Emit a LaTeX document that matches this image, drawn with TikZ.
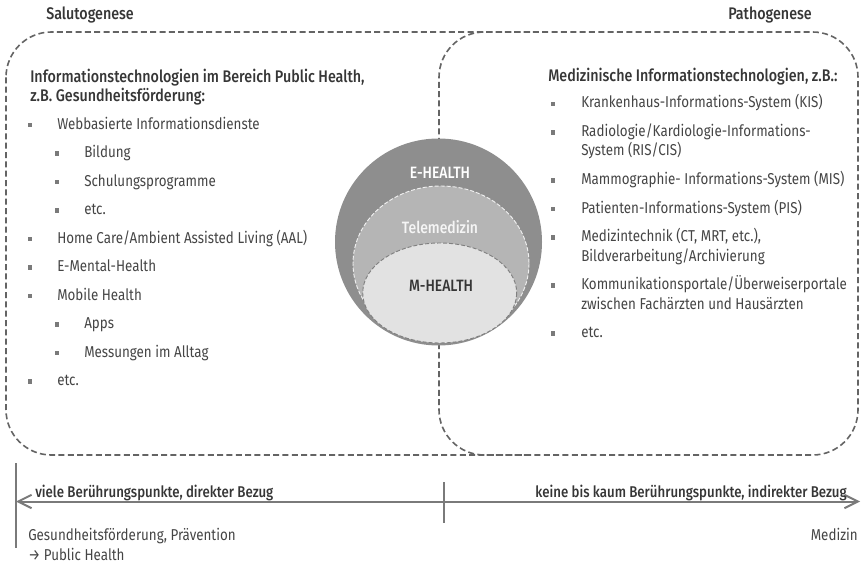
\documentclass[tikz,border=0pt]{standalone}
\usepackage{fontspec}
\setmainfont{Fira Sans}[FakeStretch=0.85, BoldFont={Fira Sans Medium}]
\usetikzlibrary{positioning, arrows.meta}

\definecolor{framegray}{HTML}{646464}
\definecolor{textgray}{HTML}{454545}
\definecolor{headgray}{HTML}{363636}
\definecolor{bulletgray}{HTML}{7A7A7A}
\definecolor{ehealth}{HTML}{8E8E8E}
\definecolor{telemed}{HTML}{B5B5B5}
\definecolor{mhealth}{HTML}{E2E2E2}
\definecolor{axisgray}{HTML}{7A7A7A}

\begin{document}
\begin{tikzpicture}[
        x=0.75pt, y=-0.75pt,
        >={Straight Barb[length=10pt, width=10pt]},
        area/.style={draw=framegray, line width=1.2pt, dash pattern=on 4.5pt off 2.5pt, rounded corners=34pt},
        item/.style={anchor=base west, inner sep=0pt, text=textgray, align=left, font=\fontsize{11.8}{14.6}\selectfont},
        headtext/.style={item, text=headgray, font=\bfseries\fontsize{12.6}{14.6}\selectfont},
        axtext/.style={item, text=headgray, font=\bfseries\fontsize{11.7}{14}\selectfont},
        bullet/.style={fill=bulletgray, minimum size=3.2pt, inner sep=0pt},
        circtext/.style={inner sep=0pt, font=\bfseries\fontsize{12.3}{14}\selectfont},
        axis/.style={draw=axisgray, line width=1.5pt},
    ]
    \useasboundingbox (0,0) rectangle (862,563);

        % Draw the dashed areas: outer frame plus the rounded divider of the right area
        \draw[area] (6,32) rectangle (858,455);
        \coordinate (divT) at (530,32);
        \coordinate (divB) at (530,455);
        \draw[area] (divT) -- (439,32) -- (439,455) -- (divB);

        \node[headtext] (salut) at (46,20) {Salutogenese};
        \node[headtext, anchor=base east] (patho) at (812,20) {Pathogenese};

        % Draw the nested health circles
        \fill[ehealth] (438.5,242) circle [radius=103.5];
        \filldraw[fill=telemed, draw=white!80!telemed, line width=0.7pt, dash pattern=on 3pt off 1.5pt]
            (441,263.5) ellipse [x radius=88, y radius=77.5];
        \filldraw[fill=mhealth, draw=gray, line width=0.7pt, dash pattern=on 3pt off 1.5pt]
            (439.7,293) ellipse [x radius=77, y radius=50];

        \node[circtext, text=white] (eh) at (440,173) {E-HEALTH};
        \node[circtext, text=white!92!gray] (tm) at (440,227) {Telemedizin};
        \node[circtext, text=headgray] (mh) at (441,286) {M-HEALTH};

        % Left list: public health (base anchor sits on the last line)
        \node[headtext] (lhead) at (30,101.5) {Informationstechnologien im Bereich Public Health,\\z.B. Gesundheitsförderung:};
        \foreach \i/\y/\lvl/\txt in {
                1/125/1/{Webbasierte Informationsdienste},
                2/153.5/2/{Bildung},
                3/182/2/{Schulungsprogramme},
                4/210.5/2/{etc.},
                5/239/1/{Home Care/Ambient Assisted Living (AAL)},
                6/267.5/1/{E-Mental-Health},
                7/296/1/{Mobile Health},
                8/324.5/2/{Apps},
                9/353/2/{Messungen im Alltag},
                10/381.5/1/{etc.}}
        {
            \pgfmathsetmacro{\bx}{3+27*\lvl}
            \node[bullet] (L-\i) at (\bx,\y) {};
            \node[item] (Lt-\i) at (\bx+27,\y+4) {\txt};
        }

        % Right list: medicine
        \node[headtext] (rhead) at (548,82) {Medizinische Informationstechnologien, z.B.:};
        \foreach \i/\y/\n/\txt in {
                1/104/1/{Krankenhaus-Informations-System (KIS)},
                2/132.5/2/{Radiologie/Kardiologie-Informations-\\System (RIS/CIS)},
                3/180.5/1/{Mammographie- Informations-System (MIS)},
                4/209/1/{Patienten-Informations-System (PIS)},
                5/237.5/2/{Medizintechnik (CT, MRT, etc.),\\Bildverarbeitung/Archivierung},
                6/285.5/2/{Kommunikationsportale/Überweiserportale\\zwischen Fachärzten und Hausärzten},
                7/333.5/1/{etc.}}
        {
            \node[bullet] (R-\i) at (553,\y) {};
            \node[item] (Rt-\i) at (581,\y+4+19.5*\n-19.5) {\txt};
        }

        % Bottom scale
        \coordinate (barT) at (16,463);
        \coordinate (barB) at (16,548);
        \coordinate (axL) at (16,501.5);
        \coordinate (axR) at (860,501.5);
        \coordinate (tickT) at (444,482);
        \coordinate (tickB) at (444,523);
        \draw[axis, line width=1.1pt] (barT) -- (barB);
        \draw[axis, line width=1.1pt] (tickT) -- (tickB);
        \draw[axis, <->] (axL) -- (axR);

        \node[axtext] (near) at (35,497) {viele Berührungspunkte, direkter Bezug};
        \node[axtext, anchor=base east] (far) at (847,497) {keine bis kaum Berührungspunkte, indirekter Bezug};
        \node[item] (prev) at (28,540) {Gesundheitsförderung, Prävention};
        \node[item] (ph) at (28,560) {→ Public Health};
        \node[item, anchor=base east] (med) at (858,540) {Medizin};
\end{tikzpicture}
\end{document}
